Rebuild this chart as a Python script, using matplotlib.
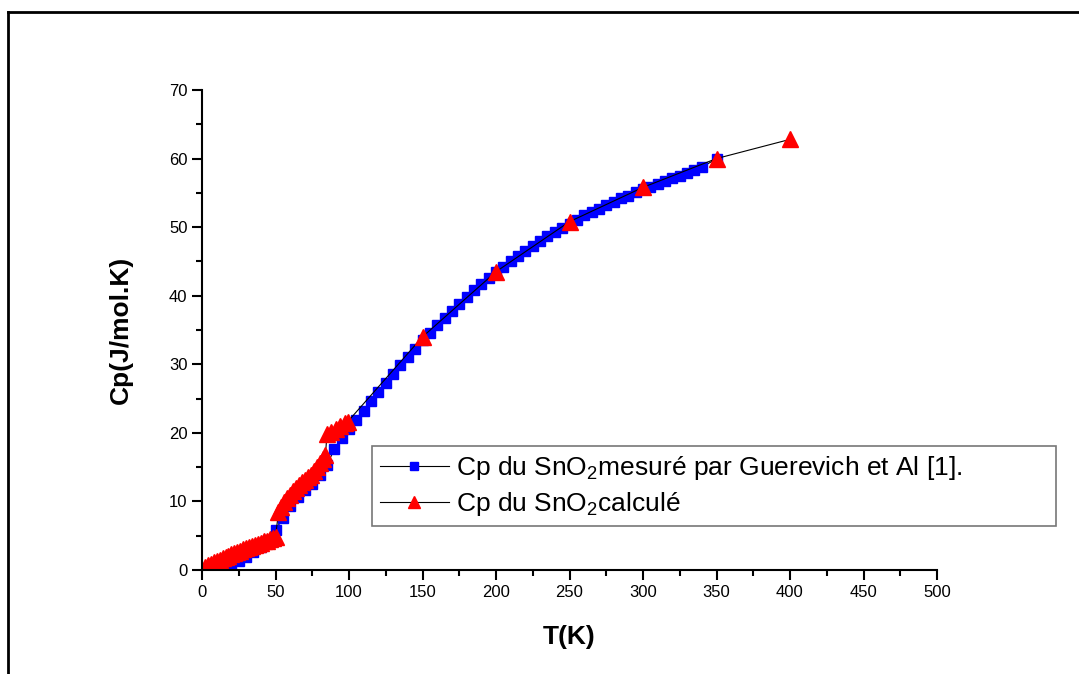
import matplotlib.pyplot as plt
from matplotlib.lines import Line2D
from matplotlib.ticker import MultipleLocator

plt.rcParams['font.family'] = ['Liberation Sans', 'DejaVu Sans']
plt.rcParams['mathtext.fontset'] = 'custom'
plt.rcParams['mathtext.rm'] = 'Liberation Sans'

# measured data (Guerevich et al.)
T_mes = [10, 15, 20, 25, 30, 35, 40, 45, 50, 55, 60, 65, 70, 75, 80, 85, 90, 95,
         100, 105, 110, 115, 120, 125, 130, 135, 140, 145, 150, 155, 160, 165,
         170, 175, 180, 185, 190, 195, 200, 205, 210, 215, 220, 225, 230, 235,
         240, 245, 250, 255, 260, 265, 270, 275, 280, 285, 290, 295, 300, 305,
         310, 315, 320, 325, 330, 335, 340, 350]
Cp_mes = [0.1, 0.4, 0.8, 1.3, 1.9, 2.6, 3.4, 4.4, 5.8, 7.6, 9.3, 10.6, 11.6, 12.6,
          13.8, 15.3, 17.6, 19.3, 20.6, 21.9, 23.2, 24.6, 26.0, 27.3, 28.6, 29.9,
          31.1, 32.3, 33.5, 34.6, 35.7, 36.8, 37.8, 38.8, 39.8, 40.8, 41.7, 42.6,
          43.4, 44.2, 45.0, 45.8, 46.5, 47.3, 48.0, 48.7, 49.3, 49.9, 50.5, 51.1,
          51.7, 52.2, 52.7, 53.2, 53.7, 54.2, 54.6, 55.1, 55.5, 55.9, 56.3, 56.7,
          57.1, 57.5, 57.9, 58.3, 58.7, 60.0]

# calculated values
T_calc = [2, 4, 6, 8, 10, 12, 14, 16, 18, 20, 22, 24, 26, 28, 30, 32, 34, 36, 38,
          40, 42, 44, 46, 48, 50,
          52, 54, 56, 58, 60, 62, 64, 66, 68, 70, 72, 74, 76, 78, 80, 82, 84,
          85, 88, 91, 94, 97, 99,
          150, 200, 250, 300, 350, 400]
Cp_calc = [0.5, 0.7, 0.9, 1.1, 1.3, 1.5, 1.7, 1.9, 2.1, 2.3, 2.5, 2.6, 2.8, 3.0,
           3.2, 3.3, 3.5, 3.7, 3.8, 4.0, 4.2, 4.3, 4.5, 4.7, 4.8,
           8.4, 9.2, 9.9, 10.5, 11.0, 11.5, 12.0, 12.4, 12.8, 13.1, 13.5, 13.9,
           14.4, 15.0, 15.6, 16.2, 16.8,
           19.8, 20.1, 20.5, 21.0, 21.4, 21.6,
           34.0, 43.5, 50.8, 55.8, 60.0, 62.8]

fig = plt.figure(figsize=(10.79, 6.74), dpi=100)
ax = fig.add_axes([202 / 1079, 1 - 570 / 674, 735 / 1079, 480 / 674])

ax.plot(T_mes, Cp_mes, color='black', lw=0.8, marker='s', ms=7,
        mfc='#0000ff', mec='#0000ff', label='Cp du SnO$_2$mesuré par Guerevich et Al [1].')
ax.plot(T_calc, Cp_calc, color='black', lw=0.8, marker='^', ms=11.5,
        mfc='#ff0000', mec='#ff0000', label='Cp du SnO$_2$calculé')

ax.set_xlim(0, 500)
ax.set_ylim(0, 70)
ax.xaxis.set_major_locator(MultipleLocator(50))
ax.xaxis.set_minor_locator(MultipleLocator(25))
ax.yaxis.set_major_locator(MultipleLocator(10))
ax.yaxis.set_minor_locator(MultipleLocator(5))
for s in ['top', 'right']:
    ax.spines[s].set_visible(False)
for s in ['left', 'bottom']:
    ax.spines[s].set_linewidth(1.5)
ax.tick_params(which='major', direction='out', length=7, width=1.5, labelsize=12)
ax.tick_params(which='minor', direction='out', length=4, width=1.5)

ax.set_xlabel('T(K)', fontsize=19, fontweight='bold', labelpad=18)
ax.set_ylabel('Cp(J/mol.K)', fontsize=19, fontweight='bold', labelpad=26)

x0, y0 = 372 / 1079, 1 - 526 / 674
leg = ax.legend(loc='lower left', mode='expand',
                bbox_to_anchor=(x0, y0, 684 / 1079, 83 / 674),
                bbox_transform=fig.transFigure, fontsize=19, frameon=True,
                fancybox=False, edgecolor='#555555', handlelength=2.6,
                borderpad=0.3, borderaxespad=0, labelspacing=0.3,
                handletextpad=0.3, markerscale=0.75)
leg.get_frame().set_linewidth(1.2)

# outer frame (top and left visible)
fig.add_artist(Line2D([8 / 1079, 8 / 1079], [0, 1 - 12 / 674], color='black', lw=2))
fig.add_artist(Line2D([8 / 1079, 1], [1 - 12 / 674, 1 - 12 / 674], color='black', lw=2))

plt.savefig('out.png', dpi=100)
